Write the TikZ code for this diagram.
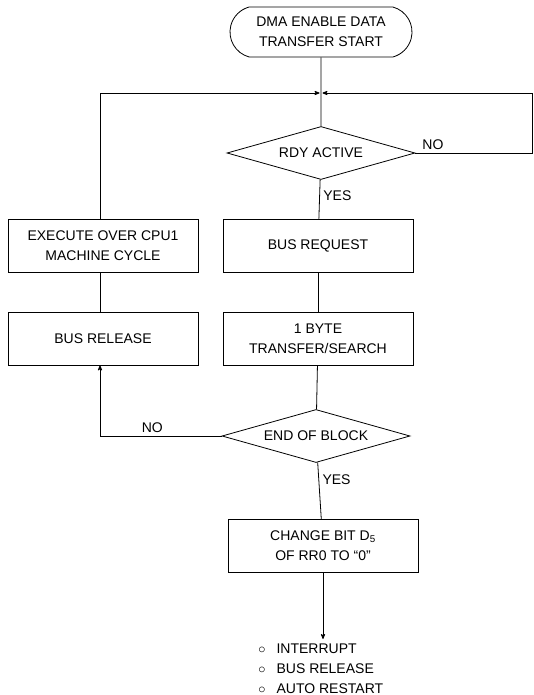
\documentclass[tikz,border=0pt]{standalone}
\usepackage{fontspec}
\setmainfont{Liberation Sans}
\usepackage{tikz}
\usetikzlibrary{arrows,shapes.geometric,shapes.misc}
\usetikzlibrary{positioning}
\tikzset{
    procbox/.style={
      rectangle,
      draw=black, line width=0.8pt,
      minimum width=190pt,
      minimum height=53pt,
      inner sep=2pt,
      align=center,
    },
    decision/.style={
      diamond, aspect=3.5,
      draw=black, line width=0.8pt,
      minimum width=188pt,
      minimum height=53pt,
      inner sep=0pt,
    },
    termbox/.style={
      rounded rectangle, rounded rectangle arc length=150,
      draw=black, line width=0.8pt,
      minimum width=182pt,
      minimum height=50pt,
      inner xsep=0pt,
      align=center,
    },
}

\begin{document}
\begin{tikzpicture}[>=stealth', x=1pt, y=-1pt, line width=0.8pt,
    font=\fontsize{14}{20}\selectfont]

    \useasboundingbox (0,0) rectangle (534,695);

    \node[termbox] (start) at (321,32) {DMA ENABLE DATA\\TRANSFER START};

    \node[decision] (rdy) at (321,153) {RDY ACTIVE};

    \node[procbox] (busreq) at (318,245.5) {BUS REQUEST};
    \node[procbox] (xfer) at (318,338.5) {1 BYTE\\TRANSFER/SEARCH};

    \node[procbox] (exec) at (103,245.5) {EXECUTE OVER CPU1\\MACHINE CYCLE};
    \node[procbox] (rel) at (103,338.5) {BUS RELEASE};

    \node[decision] (eob) at (316,436) {END OF BLOCK};

    \node[procbox] (chg) at (323,546) {CHANGE BIT D\textsubscript{5}\\OF RR0 TO ``0''};

    \node[anchor=north west, inner sep=0pt] (after) at (258,639)
    {
      \begin{tabular}{@{}c@{\hspace{11pt}}l@{}}
        $\circ$ & INTERRUPT \\
        $\circ$ & BUS RELEASE \\
        $\circ$ & AUTO RESTART
      \end{tabular}
    };

    \coordinate (join) at (321,93);
    \coordinate (rtop) at (532.5,93);

    \draw (start) -- (rdy);

    \draw[->, shorten >=1.5pt] (exec.north -| 100,0) |- (join);
    \draw[->, shorten >=1.5pt] (rdy.east) -- node[above, pos=0.15]{NO} (rdy -| rtop) -- (rtop) -- (join);

    \path

    (rdy) edge node[right, pos=0.4]{YES} (busreq)

    (busreq) edge (xfer)

    (xfer) edge (eob)

    (exec.south -| 100,0) edge (rel.north -| 100,0)

    (eob) edge node[right, pos=0.3]{YES} (chg)

    ;

    \draw[->] (eob.west) -- node[above, pos=0.57]{NO} (eob.west -| 100,0) -- (rel.south -| 100,0);

    \draw[->] (chg) -- (chg.south |- after.north);

\end{tikzpicture}
\end{document}
